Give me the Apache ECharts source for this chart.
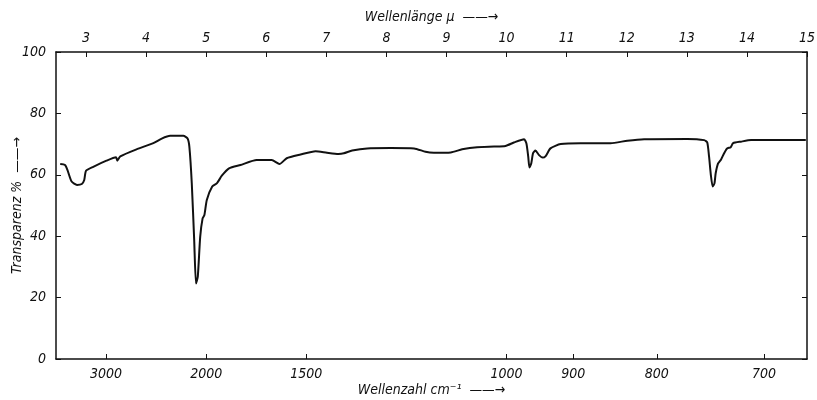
<!DOCTYPE html>
<html>
<head>
<meta charset="utf-8">
<script src="https://cdn.jsdelivr.net/npm/echarts@6/dist/echarts.min.js"></script>
<style>
html, body { margin: 0; padding: 0; background: #fff; }
#spektrum { width: 817px; height: 400px; }
</style>
</head>
<body>
<div id="spektrum"></div>
<script>
// Wellenlänge in μ (x) und Transparenz in % (y)
var wellenlaenge = [2.57, 2.65, 2.69, 2.76, 2.85, 2.93, 2.97, 3.0, 3.12, 3.34, 3.5, 3.52, 3.57, 3.84, 4.12, 4.26, 4.4, 4.62, 4.69, 4.72,
    4.76, 4.8, 4.83, 4.86, 4.9, 4.94, 4.97, 5.01, 5.1, 5.18, 5.26, 5.38, 5.57, 5.84, 6.09, 6.22, 6.34, 6.57, 6.82, 7.01,
    7.2, 7.29, 7.43, 7.68, 8.07, 8.46, 8.65, 8.79, 9.07, 9.26, 9.51, 9.79, 9.98, 10.12, 10.29, 10.33, 10.36, 10.38, 10.41, 10.44,
    10.48, 10.54, 10.6, 10.65, 10.73, 10.9, 11.23, 11.73, 12.01, 12.29, 13.01, 13.29, 13.34, 13.37, 13.4, 13.43, 13.46, 13.48, 13.52, 13.57,
    13.62, 13.67, 13.73, 13.77, 13.9, 14.07, 14.98];
var transparenz = [63.5, 63.2, 61.6, 57.8, 56.7, 57, 58.3, 61.3, 62.6, 64.6, 65.7, 64.6, 66, 68.3, 70.3, 71.8, 72.7, 72.7, 71.8, 69.1,
    57.2, 38.8, 24.6, 26.8, 39.8, 45.8, 46.9, 51.8, 56.2, 57.3, 59.7, 62.1, 63.2, 64.8, 64.8, 63.5, 65.4, 66.6, 67.7, 67.2,
    66.8, 67, 67.9, 68.6, 68.7, 68.6, 67.5, 67.2, 67.3, 68.3, 69, 69.2, 69.4, 70.5, 71.6, 70.2, 65.9, 62.4, 63.7, 67,
    67.9, 66.4, 65.6, 66.1, 68.6, 70, 70.3, 70.3, 71.1, 71.6, 71.7, 71.3, 70.5, 65.9, 59.9, 56.2, 57.2, 60.5, 63.7, 65,
    67, 68.6, 69, 70.3, 70.8, 71.3, 71.3];

// Achsenbeschriftungen
var wellenzahlTicks = [3000, 2000, 1500, 1000, 900, 800, 700];
var wellenlaengeTicks = [3, 4, 5, 6, 7, 8, 9, 10, 11, 12, 13, 14, 15];
var transparenzTicks = [0, 20, 40, 60, 80, 100];

var schrift = "'Liberation Sans Narrow', 'DejaVu Sans Condensed', sans-serif";

var daten = wellenlaenge.map(function (w, i) { return [w, transparenz[i]]; });
var wellenzahlPos = wellenzahlTicks.map(function (n) { return 10000 / n; });

var chart = echarts.init(document.getElementById('spektrum'));
var option = {
    backgroundColor: '#fff',
    animation: false,
    grid: { left: 56, right: 10, top: 52, bottom: 41, containLabel: false, outerBoundsMode: 'none' },
    xAxis: [{
        // unten: Wellenzahl (Skala linear in μ)
        type: 'value',
        position: 'bottom',
        min: 2.5,
        max: 15,
        name: 'Wellenzahl cm⁻¹  ——→',
        nameLocation: 'middle',
        nameGap: 24,
        nameMoveOverlap: false,
        nameTextStyle: { color: '#111', fontSize: 14, fontStyle: 'italic', fontFamily: schrift },
        axisLine: { onZero: false, lineStyle: { color: '#111', width: 1.5 } },
        axisTick: { inside: true, length: 5, customValues: wellenzahlPos, lineStyle: { color: '#111' } },
        axisLabel: {
            customValues: wellenzahlPos,
            margin: 8,
            formatter: function (v) { return String(Math.round(10000 / v)); },
            color: '#111', fontSize: 14, fontStyle: 'italic', fontFamily: schrift
        },
        splitLine: { show: false }
    }, {
        // oben: Wellenlänge
        type: 'value',
        position: 'top',
        min: 2.5,
        max: 15,
        name: 'Wellenlänge μ  ——→',
        nameLocation: 'middle',
        nameGap: 28,
        nameMoveOverlap: false,
        nameTextStyle: { color: '#111', fontSize: 14, fontStyle: 'italic', fontFamily: schrift },
        axisLine: { onZero: false, lineStyle: { color: '#111', width: 1.5 } },
        axisTick: { inside: true, length: 5, customValues: wellenlaengeTicks, lineStyle: { color: '#111' } },
        axisLabel: {
            customValues: wellenlaengeTicks,
            margin: 7,
            color: '#111', fontSize: 14, fontStyle: 'italic', fontFamily: schrift
        },
        splitLine: { show: false }
    }],
    yAxis: [{
        type: 'value',
        position: 'left',
        min: 0,
        max: 100,
        interval: 20,
        name: 'Transparenz %  ——→',
        nameLocation: 'middle',
        nameGap: 32,
        nameMoveOverlap: false,
        nameTextStyle: { color: '#111', fontSize: 14, fontStyle: 'italic', fontFamily: schrift },
        axisLine: { show: true, onZero: false, lineStyle: { color: '#111', width: 1.5 } },
        axisTick: { show: true, inside: true, length: 5, lineStyle: { color: '#111' } },
        axisLabel: {
            margin: 10,
            color: '#111', fontSize: 14, fontStyle: 'italic', fontFamily: schrift,
            formatter: function (v) { return transparenzTicks.indexOf(v) >= 0 ? String(v) : ''; }
        },
        splitLine: { show: false }
    }, {
        type: 'value',
        position: 'right',
        min: 0,
        max: 100,
        interval: 20,
        axisLine: { show: true, onZero: false, lineStyle: { color: '#111', width: 1.5 } },
        axisTick: { show: true, inside: true, length: 5, lineStyle: { color: '#111' } },
        axisLabel: { show: false },
        splitLine: { show: false }
    }],
    series: [{
        name: 'Transparenz',
        type: 'line',
        xAxisIndex: 0,
        yAxisIndex: 0,
        showSymbol: false,
        smooth: 0.2,
        lineStyle: { color: '#111', width: 2 },
        data: daten
    }]
};
chart.setOption(option);
</script>
</body>
</html>
